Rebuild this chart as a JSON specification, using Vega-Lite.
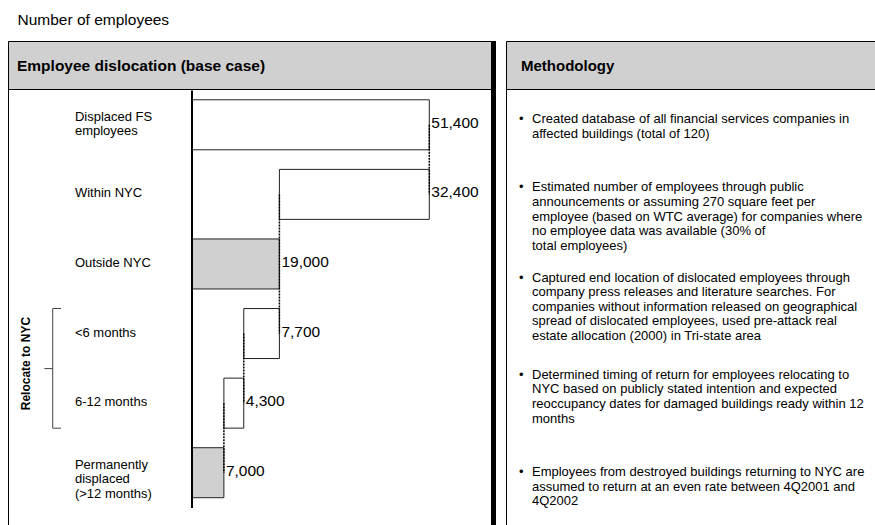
{
  "$schema": "https://vega.github.io/schema/vega-lite/v6.json",
  "padding": {"left": 7, "top": 13, "right": 0, "bottom": 0},
  "background": "white",
  "title": {"text": "Number of employees", "anchor": "start", "fontSize": 15.5, "fontWeight": "normal", "color": "black", "offset": 10, "dx": 10, "font": "Liberation Sans"},
  "datasets": {
    "bars": [
      {"category": "Displaced FS employees", "label": "Displaced FS\nemployees", "start": 0, "end": 51400, "value": 51400, "location": "total"},
      {"category": "Within NYC", "label": "Within NYC", "start": 19000, "end": 51400, "value": 32400, "location": "nyc"},
      {"category": "Outside NYC", "label": "Outside NYC", "start": 0, "end": 19000, "value": 19000, "location": "outside"},
      {"category": "<6 months", "label": "<6 months", "start": 11300, "end": 19000, "value": 7700, "location": "nyc"},
      {"category": "6-12 months", "label": "6-12 months", "start": 7000, "end": 11300, "value": 4300, "location": "nyc"},
      {"category": "Permanently displaced (>12 months)", "label": "Permanently\ndisplaced\n(>12 months)", "start": 0, "end": 7000, "value": 7000, "location": "outside"}
    ],
    "links": [
      {"level": 51400, "from": "Displaced FS employees", "to": "Within NYC"},
      {"level": 19000, "from": "Within NYC", "to": "<6 months"},
      {"level": 11300, "from": "<6 months", "to": "6-12 months"},
      {"level": 7000, "from": "6-12 months", "to": "Permanently displaced (>12 months)"}
    ],
    "bracket": [
      {"top": "<6 months", "bottom": "6-12 months", "label": "Relocate to NYC"}
    ],
    "notes": [
      {"id": 1, "lines": 2, "text": "Created database of all financial services companies in\naffected buildings (total of 120)"},
      {"id": 2, "lines": 5, "text": "Estimated number of employees through public\nannouncements or assuming 270 square feet per\nemployee (based on WTC average) for companies where\nno employee data was available (30% of\ntotal employees)"},
      {"id": 3, "lines": 5, "text": "Captured end location of dislocated employees through\ncompany press releases and literature searches.  For\ncompanies without information released on geographical\nspread of dislocated employees, used pre-attack real\nestate allocation (2000) in Tri-state area"},
      {"id": 4, "lines": 4, "text": "Determined timing of return for employees relocating to\nNYC based on publicly stated intention and expected\nreoccupancy dates for damaged buildings ready within 12\nmonths"},
      {"id": 5, "lines": 3, "text": "Employees from destroyed buildings returning to NYC are\nassumed to return at an even rate between 4Q2001 and\n4Q2002"}
    ],
    "headers": [
      {"panel": "left", "header": "Employee dislocation (base case)"},
      {"panel": "right", "header": "Methodology"}
    ]
  },
  "hconcat": [
    {
      "vconcat": [
        {
          "width": 483,
          "height": 48,
          "view": {"fill": "#d0d0d0", "stroke": "black"},
          "data": {"name": "headers"},
          "transform": [{"filter": "datum.panel === 'left'"}],
          "layer": [
            {
              "mark": {"type": "text", "align": "left", "baseline": "middle", "fontSize": 15.5, "fontWeight": "bold", "dx": 9, "dy": 1, "color": "black"},
              "encoding": {
                "x": {"datum": 0, "type": "quantitative", "scale": {"domain": [0, 1], "nice": false, "zero": false}, "axis": null},
                "text": {"field": "header"}
              }
            },
            {
              "mark": {"type": "rule", "strokeWidth": 4, "xOffset": 3, "color": "black"},
              "encoding": {
                "x": {"datum": 1, "type": "quantitative", "scale": {"domain": [0, 1], "nice": false, "zero": false}, "axis": null}
              }
            }
          ]
        },
        {
          "width": 483,
          "height": 436,
          "view": {"stroke": "black", "fill": "white"},
          "layer": [
            {
              "data": {"name": "bars"},
              "mark": {"type": "bar", "stroke": "#222", "strokeWidth": 1, "height": 50},
              "encoding": {
                "y": {"field": "category", "type": "nominal", "sort": null,
                  "scale": {"domain": ["Displaced FS employees", "Within NYC", "Outside NYC", "<6 months", "6-12 months", "Permanently displaced (>12 months)"], "range": [1, 418.5], "paddingInner": 0.28, "paddingOuter": 0.14},
                  "axis": {"orient": "left", "offset": -183.5, "labels": false, "ticks": false, "title": null, "grid": false, "domainColor": "black", "domainWidth": 2, "zindex": 1}},
                "x": {"field": "start", "type": "quantitative", "scale": {"domain": [-39663, 64737], "nice": false, "zero": false}, "axis": null},
                "x2": {"field": "end"},
                "fill": {"field": "location", "type": "nominal", "scale": {"domain": ["total", "nyc", "outside"], "range": ["white", "white", "#d0d0d0"]}, "legend": null}
              }
            },
            {
              "data": {"name": "bars"},
              "mark": {"type": "text", "align": "left", "baseline": "middle", "fontSize": 15.5, "dx": 2, "dy": -2, "color": "black"},
              "encoding": {
                "y": {"field": "category", "type": "nominal", "sort": null},
                "x": {"field": "end", "type": "quantitative"},
                "text": {"field": "value", "type": "quantitative", "format": ",.0f"}
              }
            },
            {
              "data": {"name": "bars"},
              "transform": [{"filter": "indexof(datum.label, '\\n') < 0"}],
              "mark": {"type": "text", "align": "left", "baseline": "middle", "fontSize": 13, "dy": -1, "color": "black"},
              "encoding": {
                "y": {"field": "category", "type": "nominal", "sort": null},
                "x": {"datum": -25200, "type": "quantitative"},
                "text": {"field": "label"}
              }
            },
            {
              "data": {"name": "bars"},
              "transform": [{"filter": "indexof(datum.label, '\\n') >= 0"}],
              "mark": {"type": "text", "align": "left", "baseline": "middle", "fontSize": 13, "lineBreak": "\n", "lineHeight": 14.5, "dy": -8, "color": "black"},
              "encoding": {
                "y": {"field": "category", "type": "nominal", "sort": null},
                "x": {"datum": -25200, "type": "quantitative"},
                "text": {"field": "label"}
              }
            },
            {
              "data": {"name": "links"},
              "mark": {"type": "rule", "color": "black", "strokeWidth": 1.5, "strokeDash": [2, 1]},
              "encoding": {
                "x": {"field": "level", "type": "quantitative"},
                "y": {"field": "from", "type": "nominal", "bandPosition": 0.5},
                "y2": {"field": "to", "bandPosition": 0.5}
              }
            },
            {
              "data": {"name": "bracket"},
              "mark": {"type": "rule", "color": "#444", "strokeWidth": 1},
              "encoding": {
                "x": {"datum": -30000, "type": "quantitative"},
                "y": {"field": "top", "type": "nominal", "bandPosition": 0},
                "y2": {"field": "bottom", "bandPosition": 1}
              }
            },
            {
              "data": {"name": "bracket"},
              "mark": {"type": "rule", "color": "#444", "strokeWidth": 1},
              "encoding": {
                "x": {"datum": -30000, "type": "quantitative"},
                "x2": {"datum": -28200},
                "y": {"field": "top", "type": "nominal", "bandPosition": 0}
              }
            },
            {
              "data": {"name": "bracket"},
              "mark": {"type": "rule", "color": "#444", "strokeWidth": 1},
              "encoding": {
                "x": {"datum": -30000, "type": "quantitative"},
                "x2": {"datum": -28200},
                "y": {"field": "bottom", "type": "nominal", "bandPosition": 1}
              }
            },
            {
              "data": {"name": "bracket"},
              "mark": {"type": "rule", "color": "#444", "strokeWidth": 1},
              "encoding": {
                "x": {"datum": -31800, "type": "quantitative"},
                "x2": {"datum": -30000},
                "y": {"field": "top", "type": "nominal", "bandPosition": 1.2}
              }
            },
            {
              "data": {"name": "bracket"},
              "mark": {"type": "text", "align": "center", "baseline": "middle", "angle": 270, "fontSize": 12, "fontWeight": "bold", "color": "black"},
              "encoding": {
                "x": {"datum": -35800, "type": "quantitative"},
                "y": {"field": "top", "type": "nominal", "bandPosition": 1.1},
                "text": {"field": "label"}
              }
            },
            {
              "data": {"name": "bracket"},
              "mark": {"type": "rule", "strokeWidth": 4, "xOffset": 3, "color": "black"},
              "encoding": {
                "x": {"datum": 64737, "type": "quantitative"}
              }
            }
          ]
        }
      ],
      "spacing": 0,
      "bounds": "flush",
      "resolve": {"scale": {"x": "independent", "y": "independent"}}
    },
    {
      "vconcat": [
        {
          "width": 369,
          "height": 48,
          "view": {"fill": "#d0d0d0", "stroke": "black"},
          "data": {"name": "headers"},
          "transform": [{"filter": "datum.panel === 'right'"}],
          "mark": {"type": "text", "align": "left", "baseline": "middle", "fontSize": 15, "fontWeight": "bold", "dx": 15, "dy": 1, "color": "black"},
          "encoding": {
            "x": {"datum": 0, "type": "quantitative", "scale": {"domain": [0, 1], "nice": false, "zero": false}, "axis": null},
            "text": {"field": "header"}
          }
        },
        {
          "width": 369,
          "height": 436,
          "view": {"stroke": "black", "fill": "white"},
          "data": {"name": "notes"},
          "layer": [
            {
              "mark": {"type": "text", "align": "left", "baseline": "middle", "fontSize": 13, "lineHeight": 14.6, "lineBreak": "\n", "dx": 26, "color": "black"},
              "encoding": {
                "x": {"datum": 0, "type": "quantitative", "scale": {"domain": [0, 1], "nice": false, "zero": false}, "axis": null},
                "y": {"field": "id", "type": "ordinal", "scale": {"type": "band", "range": [37.6, 487.9], "paddingInner": 0, "paddingOuter": 0}, "axis": null},
                "yOffset": {"field": "lines", "type": "ordinal", "scale": {"type": "point", "domain": [2, 3, 4, 5], "range": [-7.3, -29.2], "padding": 0}},
                "text": {"field": "text"}
              }
            },
            {
              "mark": {"type": "text", "align": "left", "baseline": "middle", "fontSize": 13, "dx": 13, "color": "black"},
              "encoding": {
                "x": {"datum": 0, "type": "quantitative"},
                "y": {"field": "id", "type": "ordinal"},
                "yOffset": {"field": "lines", "type": "ordinal"},
                "text": {"value": "•"}
              }
            }
          ]
        }
      ],
      "spacing": 0,
      "bounds": "flush",
      "resolve": {"scale": {"x": "independent", "y": "independent"}}
    }
  ],
  "spacing": 8,
  "resolve": {"scale": {"x": "independent", "y": "independent", "fill": "independent"}},
  "config": {
    "font": "Liberation Sans",
    "view": {"stroke": "black", "strokeWidth": 1},
    "text": {"color": "black"},
    "concat": {"spacing": 0}
  }
}
